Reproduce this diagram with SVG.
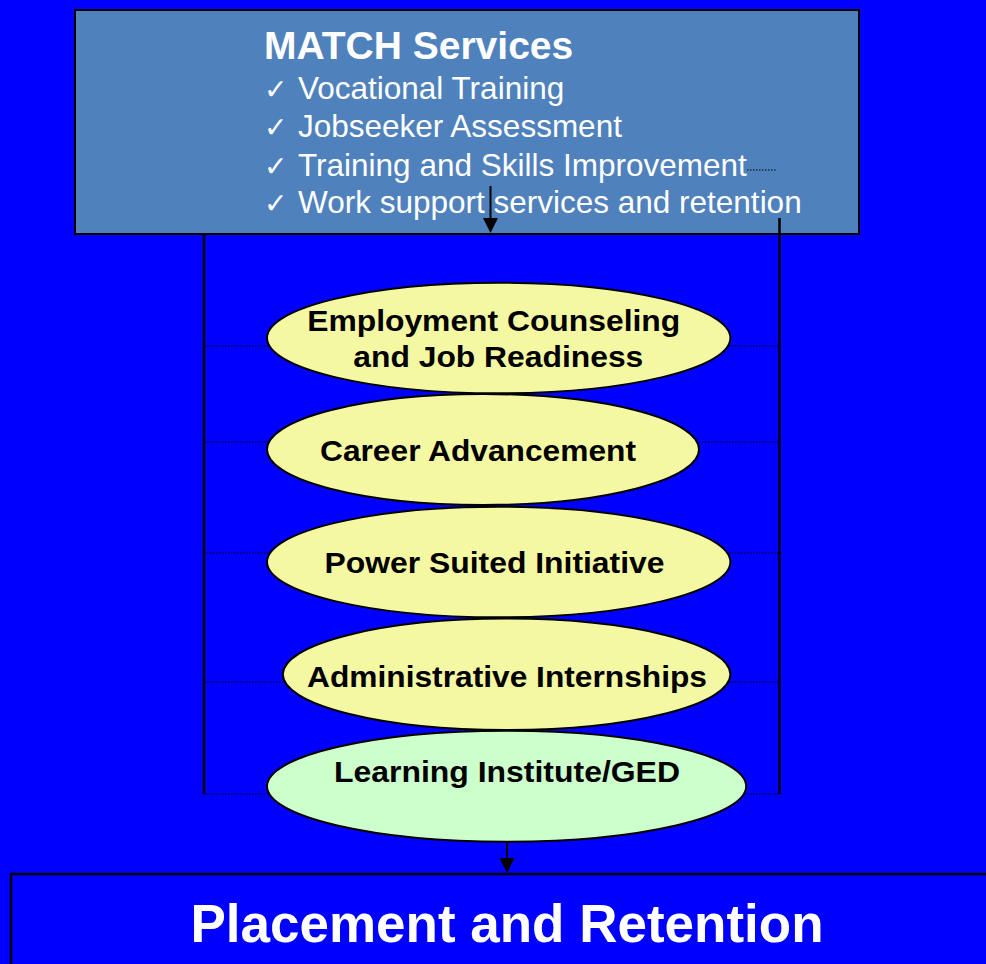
<svg xmlns="http://www.w3.org/2000/svg" width="986" height="964" viewBox="0 0 986 964">
<style>
.box{stroke:#000;stroke-width:2}
.ell{stroke:#000;stroke-width:2}
.yel{fill:#F4F8A3}
.grn{fill:#CCFFCC}
.solid{stroke:#000;stroke-width:2.5;fill:none}
.arr{stroke:#000;stroke-width:2;fill:none}
.dot{stroke:#000;stroke-width:1.2;stroke-dasharray:1.5 1.5;fill:none}
.lbl{font-family:"Liberation Sans",Arial,sans-serif;font-weight:bold;font-size:30px;fill:#000;text-anchor:middle}
.wt{font-family:"Liberation Sans",Arial,sans-serif;fill:#fff}
.chk{font-family:"DejaVu Sans","Liberation Sans",sans-serif;font-size:28px}
</style>
<defs>
<marker id="ah" markerUnits="userSpaceOnUse" markerWidth="15" markerHeight="15" viewBox="0 0 15 15" refX="0" refY="7.5" orient="auto">
<path d="M0,0 L15,7.5 L0,15 z" fill="#000"/>
</marker>
</defs>
<rect x="0" y="0" width="986" height="964" fill="#0000FF"/>
<g id="match">
<rect class="box" x="75" y="10" width="784" height="224" fill="#4F81BD"/>
<text class="wt" x="264" y="59" font-size="39" font-weight="bold">MATCH Services</text>
<text class="wt" font-size="31.5"><tspan class="chk" x="264" y="99">✓</tspan><tspan x="298" y="99">Vocational Training</tspan></text>
<text class="wt" font-size="31.5"><tspan class="chk" x="264" y="137">✓</tspan><tspan x="298" y="137">Jobseeker Assessment</tspan></text>
<text class="wt" font-size="31.5"><tspan class="chk" x="264" y="176">✓</tspan><tspan x="298" y="176">Training and Skills Improvement</tspan></text>
<text class="wt" font-size="31.5"><tspan class="chk" x="264" y="213">✓</tspan><tspan x="298" y="213">Work support services and retention</tspan></text>
</g>
<g id="connectors">
<line class="arr" x1="490.5" y1="186" x2="490.5" y2="218" marker-end="url(#ah)"/>
<line class="dot" x1="747" y1="170" x2="777" y2="170"/>
<line class="solid" x1="204" y1="234" x2="204" y2="794"/>
<line class="solid" x1="779.5" y1="218" x2="779.5" y2="794"/>
<line class="dot" x1="204" y1="346" x2="779" y2="346"/>
<line class="dot" x1="204" y1="442" x2="779" y2="442"/>
<line class="dot" x1="204" y1="553" x2="779" y2="553"/>
<line class="dot" x1="204" y1="682" x2="779" y2="682"/>
<line class="dot" x1="204" y1="794" x2="779" y2="794"/>
<line class="arr" x1="507" y1="842" x2="507" y2="858" marker-end="url(#ah)"/>
</g>
<g id="employment">
<ellipse class="ell yel" cx="498.7" cy="338" rx="231.7" ry="55.3"/>
<text class="lbl" x="493.7" y="331" textLength="373" lengthAdjust="spacingAndGlyphs">Employment Counseling</text>
<text class="lbl" x="498.3" y="367" textLength="290" lengthAdjust="spacingAndGlyphs">and Job Readiness</text>
</g>
<g id="career">
<ellipse class="ell yel" cx="483" cy="449.5" rx="216" ry="55.5"/>
<text class="lbl" x="478" y="461" textLength="316" lengthAdjust="spacingAndGlyphs">Career Advancement</text>
</g>
<g id="power">
<ellipse class="ell yel" cx="498.7" cy="562" rx="231.7" ry="55.3"/>
<text class="lbl" x="494.5" y="573" textLength="340" lengthAdjust="spacingAndGlyphs">Power Suited Initiative</text>
</g>
<g id="admin">
<ellipse class="ell yel" cx="506.6" cy="674.3" rx="223.8" ry="55.7"/>
<text class="lbl" x="507" y="687" textLength="400" lengthAdjust="spacingAndGlyphs">Administrative Internships</text>
</g>
<g id="learning">
<ellipse class="ell grn" cx="506.6" cy="786.2" rx="239.6" ry="55.5"/>
<text class="lbl" x="507" y="782" textLength="346" lengthAdjust="spacingAndGlyphs">Learning Institute/GED</text>
</g>
<g id="placement">
<rect x="11" y="874" width="1000" height="120" fill="#0000FF" stroke="#000" stroke-width="2.5"/>
<text class="wt" x="507" y="942" font-size="53" font-weight="bold" text-anchor="middle">Placement and Retention</text>
</g>
</svg>
